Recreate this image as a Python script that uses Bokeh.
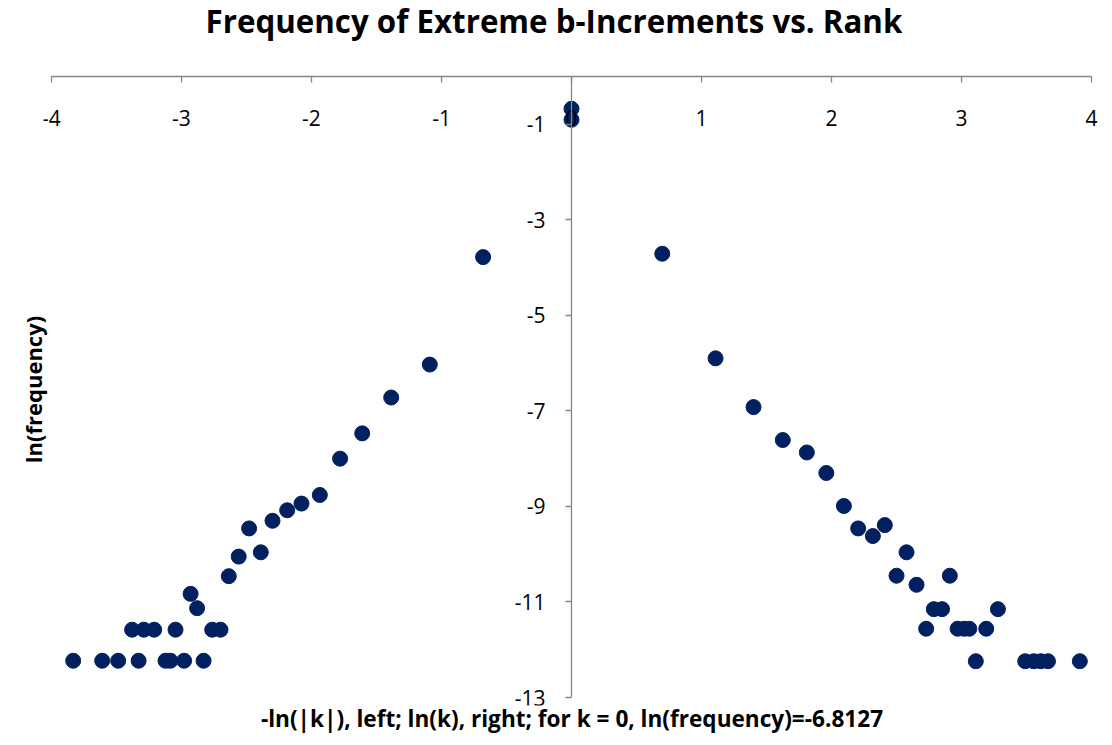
from bokeh.plotting import figure
from bokeh.models import Range1d, FixedTicker, Title, PrintfTickFormatter
from bokeh.embed import file_html
from bokeh.resources import INLINE

# k < 0 : x = -ln(|k|),  k > 0 : x = ln(k);  y = ln(frequency)
left_x = [0.0, -0.68, -1.09, -1.387, -1.61, -1.78, -1.936, -2.077, -2.187, -2.30,
          -2.39, -2.48, -2.56, -2.636, -2.70, -2.764, -2.83, -2.88, -2.93, -2.98,
          -3.046, -3.085, -3.123, -3.21, -3.29, -3.38, -3.33, -3.487, -3.61, -3.833]
left_y = [-0.905, -3.78, -6.03, -6.72, -7.47, -8.00, -8.76, -8.94, -9.08, -9.30,
          -9.96, -9.46, -10.05, -10.46, -11.58, -11.58, -12.23, -11.13, -10.83, -12.23,
          -11.58, -12.23, -12.23, -11.58, -11.58, -11.58, -12.23, -12.23, -12.23, -12.23]

right_x = [0.0, 0.698, 1.108, 1.40, 1.625, 1.81, 1.96, 2.095, 2.205, 2.318,
           2.41, 2.50, 2.577, 2.654, 2.728, 2.787, 2.85, 2.91, 2.97, 3.02,
           3.06, 3.11, 3.19, 3.28, 3.49, 3.555, 3.61, 3.665, 3.91]
right_y = [-0.675, -3.71, -5.90, -6.92, -7.61, -7.87, -8.30, -8.99, -9.46, -9.62,
           -9.39, -10.45, -9.96, -10.64, -11.56, -11.15, -11.15, -10.45, -11.56, -11.56,
           -11.56, -12.24, -11.56, -11.15, -12.24, -12.24, -12.24, -12.24, -12.24]

x_ticks = [-4, -3, -2, -1, 0, 1, 2, 3, 4]
y_ticks = [-13, -11, -9, -7, -5, -3, -1]
x_axis_bounds = (-4, 4)
y_axis_bounds = (-13, 0)

title_text = "Frequency of Extreme b-Increments vs. Rank"
x_title = "-ln(|k|), left; ln(k), right; for k = 0, ln(frequency)=-6.8127"
y_title = "ln(frequency)"

FONT = "Open Sans"
AXIS_GRAY = "#868686"
DOT = "#002060"

p = figure(width=1108, height=741, output_backend="svg", toolbar_location=None,
           x_range=Range1d(-4.0615, 4.069), y_range=Range1d(-13.167, 0.063),
           min_border_left=43, min_border_right=8, min_border_top=72,
           min_border_bottom=36, title=None)

# empty spacer panel between the frame and the chart title
p.add_layout(Title(text=" ", text_font=FONT, text_font_size="20px",
                   standoff=6), "above")
p.add_layout(Title(text=title_text, align="left", offset=162, text_font=FONT,
                   text_font_style="bold", text_font_size="31.3px",
                   text_color="black", standoff=-6), "above")
p.add_layout(Title(text=x_title, align="center", text_font=FONT,
                   text_font_style="bold", text_font_size="22.6px",
                   text_color="black", standoff=-9), "below")
p.add_layout(Title(text=y_title, align="center", text_font=FONT,
                   text_font_style="bold", text_font_size="22px",
                   text_color="black", standoff=-8), "left")

p.xgrid.visible = False
p.ygrid.visible = False
p.outline_line_color = None
p.background_fill_color = "white"
p.border_fill_color = "white"

for ax in (p.xaxis[0], p.yaxis[0]):
    ax.fixed_location = 0
    ax.axis_line_color = AXIS_GRAY
    ax.axis_line_width = 1.3
    ax.major_tick_line_color = AXIS_GRAY
    ax.major_tick_line_width = 1.3
    ax.minor_tick_line_color = None
    ax.major_tick_in = 0
    ax.major_tick_out = 6
    ax.major_label_text_font = FONT
    ax.major_label_text_font_size = "21px"
    ax.major_label_text_color = "black"
    ax.formatter = PrintfTickFormatter(format="%d")

p.xaxis.ticker = FixedTicker(ticks=x_ticks)
p.yaxis.ticker = FixedTicker(ticks=y_ticks)
p.xaxis.bounds = x_axis_bounds
p.yaxis.bounds = y_axis_bounds
p.xaxis.major_label_standoff = 27
p.yaxis.major_label_standoff = 20

p.scatter(left_x, left_y, size=15, marker="circle", fill_color=DOT, line_color=DOT)
p.scatter(right_x, right_y, size=15, marker="circle", fill_color=DOT, line_color=DOT)

open("out.html", "w").write(file_html(p, INLINE))
